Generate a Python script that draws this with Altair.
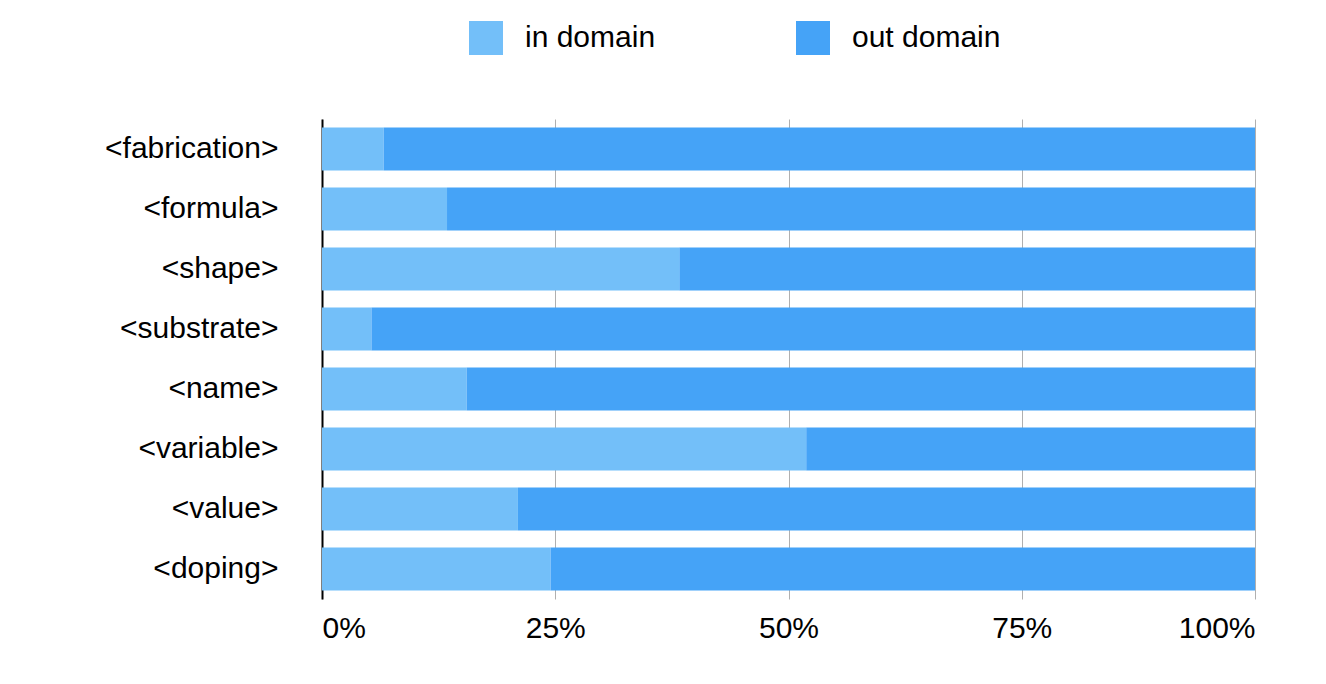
import altair as alt
import pandas as pd

categories = ["<fabrication>", "<formula>", "<shape>", "<substrate>", "<name>", "<variable>", "<value>", "<doping>"]
in_domain = [6.6, 13.4, 38.3, 5.3, 15.5, 51.9, 21.0, 24.5]
out_domain = [100 - v for v in in_domain]

rows = []
for c, a, b in zip(categories, in_domain, out_domain):
    rows.append({"cat": c, "series": "in domain", "val": a, "order": 0})
    rows.append({"cat": c, "series": "out domain", "val": b, "order": 1})
df = pd.DataFrame(rows)

chart = alt.Chart(df).mark_bar().encode(
    y=alt.Y("cat:N", sort=categories, title=None,
            scale=alt.Scale(paddingInner=0.28, paddingOuter=0.14),
            axis=alt.Axis(labelFontSize=30, labelColor="black", ticks=False,
                          domainColor="black", domainWidth=2, labelPadding=44, labelFont="Liberation Sans")),
    x=alt.X("val:Q", stack="normalize", title=None,
            scale=alt.Scale(domain=[0, 1]),
            axis=alt.Axis(values=[0, 0.25, 0.5, 0.75, 1], format="%", labelFontSize=30,
                          labelColor="black", ticks=False, domain=False, grid=True,
                          gridColor="#b0b0b0", labelPadding=14, labelFont="Liberation Sans")),
    color=alt.Color("series:N", scale=alt.Scale(domain=["in domain", "out domain"], range=["#73BFF9", "#45A3F7"]),
                    legend=alt.Legend(title=None, orient="none", legendX=147, legendY=-98, direction="horizontal",
                                      symbolType="square", symbolSize=1156, symbolStrokeWidth=0, symbolOpacity=1,
                                      labelFontSize=30, labelColor="black", labelFont="Liberation Sans",
                                      columnPadding=140, labelOffset=22)),
    order=alt.Order("order:Q"),
).properties(
    width=933, height=480,
    autosize=alt.AutoSizeParams(type="none"),
    padding={"left": 314, "top": 111, "right": 60, "bottom": 60},
).configure_view(stroke=None)

chart.save("out.html", embed_options={"renderer": "svg", "actions": False})
